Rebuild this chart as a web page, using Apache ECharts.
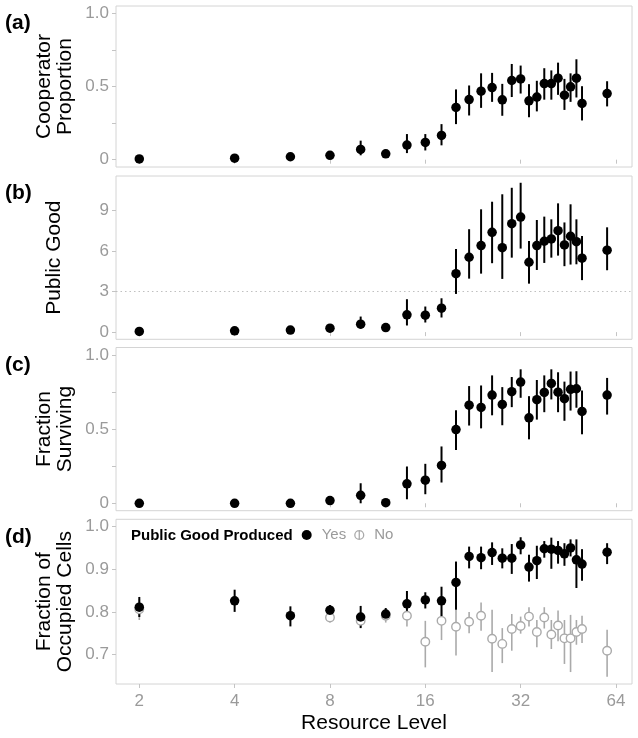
<!DOCTYPE html>
<html>
<head>
<meta charset="utf-8">
<script src="https://cdn.jsdelivr.net/npm/echarts@6/dist/echarts.min.js"></script>
<style>
html,body{margin:0;padding:0;background:#fff;}
#chart{width:638px;height:738px;}
</style>
</head>
<body>
<div id="chart"></div>
<script>
// ---- data ----
const levels = [2,4,6,8,10,12,14,16,18,20,22,24,26,28,30,32,34,36,38,40,42,44,46,48,50,60];

const coop   = [0.005,0.01,0.02,0.03,0.07,0.04,0.10,0.118,0.166,0.357,0.411,0.468,0.493,0.409,0.541,0.552,0.402,0.428,0.52,0.52,0.557,0.441,0.498,0.557,0.384,0.452];
const coopLo = [0.005,0.01,0.02,0.03,0.03,0.04,0.045,0.063,0.098,0.243,0.302,0.354,0.395,0.30,0.428,0.452,0.29,0.33,0.41,0.41,0.443,0.34,0.395,0.425,0.268,0.364];
const coopHi = [0.005,0.01,0.02,0.03,0.13,0.04,0.175,0.175,0.243,0.48,0.507,0.59,0.593,0.518,0.654,0.643,0.516,0.539,0.625,0.61,0.663,0.552,0.59,0.686,0.502,0.536];

const pg   = [0.05,0.1,0.15,0.29,0.59,0.34,1.28,1.25,1.77,4.32,5.53,6.39,7.37,6.24,8.01,8.5,5.16,6.39,6.71,6.88,7.49,6.44,7.08,6.68,5.46,6.05];
const pgLo = [0.05,0.1,0.15,0.2,0.27,0.3,0.49,0.71,1.08,2.82,3.95,4.32,5.09,3.93,5.5,6.17,3.58,4.59,5.11,5.5,5.65,4.87,4.99,5.01,3.84,4.57];
const pgHi = [0.05,0.1,0.15,0.4,1.15,0.4,2.43,1.89,2.5,6.14,7.6,9.07,9.63,10.18,10.66,11.03,6.73,8.28,8.53,8.33,9.51,8.1,9.44,8.33,7.1,7.74];
const pgThreshold = 3;

const surv   = [0,0,0,0.018,0.054,0.004,0.131,0.156,0.255,0.497,0.661,0.646,0.729,0.666,0.752,0.817,0.576,0.698,0.747,0.808,0.749,0.705,0.768,0.772,0.619,0.729];
const survLo = [0,0,0,0.01,0.0,0.004,0.027,0.061,0.14,0.359,0.524,0.505,0.593,0.526,0.648,0.711,0.431,0.564,0.614,0.70,0.614,0.556,0.625,0.644,0.465,0.598];
const survHi = [0,0,0,0.03,0.135,0.004,0.248,0.266,0.383,0.627,0.79,0.794,0.862,0.783,0.851,0.903,0.722,0.831,0.862,0.903,0.883,0.82,0.888,0.89,0.76,0.845];

const occYes   = [0.811,0.826,0.791,0.804,0.788,0.795,0.819,0.828,0.826,0.869,0.93,0.927,0.939,0.926,0.926,0.957,0.905,0.92,0.948,0.947,0.944,0.936,0.95,0.922,0.912,0.94];
const occYesLo = [0.788,0.80,0.766,0.79,0.762,0.781,0.791,0.808,0.789,0.805,0.902,0.90,0.91,0.902,0.889,0.935,0.871,0.877,0.927,0.901,0.913,0.908,0.93,0.856,0.873,0.912];
const occYesHi = [0.835,0.852,0.813,0.816,0.814,0.809,0.849,0.846,0.859,0.918,0.953,0.953,0.963,0.949,0.959,0.975,0.934,0.955,0.966,0.974,0.966,0.961,0.97,0.97,0.947,0.961];

const occNo   = [0.806,null,null,0.787,0.779,0.791,0.791,0.730,0.779,0.765,0.777,0.791,0.737,0.725,0.76,0.767,0.789,0.753,0.787,0.747,0.768,0.738,0.738,0.753,0.76,0.709];
const occNoLo = [0.781,null,null,0.775,0.765,0.775,0.766,0.670,0.734,0.698,0.75,0.756,0.659,0.68,0.709,0.749,0.766,0.717,0.761,0.713,0.731,0.678,0.659,0.723,0.727,0.648];
const occNoHi = [0.83,null,null,0.80,0.79,0.805,0.805,0.779,0.805,0.805,0.80,0.822,0.805,0.762,0.795,0.789,0.811,0.781,0.811,0.781,0.803,0.781,0.793,0.781,0.791,0.758];

const xTicks = [2,4,8,16,32,64];
const yTicksA = [0,0.25,0.5,0.75,1]; const yLabelsA = [0,0.5,1];
const yTicksB = [0,3,6,9];
const yTicksC = [0,0.25,0.5,0.75,1]; const yLabelsC = [0,0.5,1];
const yTicksD = [0.7,0.8,0.9,1.0];

const panelLetters = ['(a)','(b)','(c)','(d)'];
const yTitles = ['Cooperator\nProportion','Public Good','Fraction\nSurviving','Fraction of\nOccupied Cells'];
const xTitle = 'Resource Level';
const legendTitle = 'Public Good Produced';

// ---- layout / style ----
const FONT = 'Liberation Sans, Arial, Helvetica, sans-serif';
const GREY_TXT = '#9a9a9a';
const BORDER = '#d4d4d4';
const TICK = '#c4c4c4';
const grids = [
  {top:6,     height:161},
  {top:176,   height:163.3},
  {top:347.5, height:163.2},
  {top:519.3, height:164.7}
];
const yRanges = [[-0.05,1.05],[-0.53,11.53],[-0.05,1.05],[0.631,1.017]];
const XMIN = Math.pow(2,0.7556), XMAX = Math.pow(2,6.168);

function pts(xs, ys){ const o=[]; xs.forEach((x,i)=>{ if(ys[i]!=null) o.push([x,ys[i]]); }); return o; }
function bars(xs, lo, hi){ const o=[]; xs.forEach((x,i)=>{ if(lo[i]!=null && hi[i]!=null && hi[i]>lo[i]) o.push([x,lo[i],hi[i]]); }); return o; }
function errRender(color, width){
  return function(params, api){
    const p1 = api.coord([api.value(0), api.value(1)]);
    const p2 = api.coord([api.value(0), api.value(2)]);
    return {type:'line', shape:{x1:p1[0],y1:p1[1],x2:p2[0],y2:p2[1]}, style:{stroke:color, lineWidth:width}};
  };
}
function errSeries(name, gi, data, color, width){
  return {type:'custom', name:name, xAxisIndex:gi, yAxisIndex:gi, data:data,
    encode:{x:0, y:[1,2]}, renderItem:errRender(color,width), silent:true, z:2};
}
function ptSeries(name, gi, data, extra){
  return Object.assign({type:'scatter', name:name, xAxisIndex:gi, yAxisIndex:gi, data:data,
    symbol:'circle', symbolSize:9.5, itemStyle:{color:'#000', opacity:1}, z:3}, extra||{});
}

function xAx(gi, showLabels){
  return {type:'log', logBase:2, gridIndex:gi, min:XMIN, max:XMAX,
    axisLine:{show:false},
    axisTick:{show:true, length:4, lineStyle:{color:TICK, width:1}, customValues:xTicks},
    axisLabel:{show:showLabels, customValues:xTicks, color:GREY_TXT, fontSize:17, margin:9, fontFamily:FONT,
      formatter:v=>String(Math.round(v))},
    splitLine:{show:false}, minorTick:{show:false}, minorSplitLine:{show:false}};
}
function yAx(gi, ticks, labels, fmt){
  return {type:'value', gridIndex:gi, min:yRanges[gi][0], max:yRanges[gi][1],
    axisLine:{show:false},
    axisTick:{show:true, length:4, lineStyle:{color:TICK, width:1}, customValues:ticks},
    axisLabel:{customValues:labels, color:GREY_TXT, fontSize:17, margin:7, fontFamily:FONT, formatter:fmt},
    splitLine:{show:false}};
}
const fmt01 = v => (Math.abs(v)<1e-9 ? '0' : v.toFixed(1));

const option = {
  animation:false,
  backgroundColor:'#fff',
  grid: grids.map(g=>({left:116, right:6, top:g.top, height:g.height, show:true, borderColor:BORDER, borderWidth:1, backgroundColor:'#fff', containLabel:false})),
  xAxis:[xAx(0,false), xAx(1,false), xAx(2,false), xAx(3,true)],
  yAxis:[
    yAx(0, yTicksA, yLabelsA, fmt01),
    yAx(1, yTicksB, yTicksB, v=>String(Math.round(v))),
    yAx(2, yTicksC, yLabelsC, fmt01),
    yAx(3, yTicksD, yTicksD, v=>v.toFixed(1))
  ],
  legend:{
    data:[
      {name:'Yes', icon:'circle'},
      {name:'No', icon:'path://M1,5 A4,4 0 1,1 9,5 A4,4 0 1,1 1,5 Z M5,0.5 L5,9.5',
        itemStyle:{color:'rgba(255,255,255,0)', borderColor:'#aaaaaa', borderWidth:1.3}}
    ],
    left:301.7, top:527.5, itemWidth:20, itemHeight:10, itemGap:8, padding:0,
    selectedMode:false,
    textStyle:{color:GREY_TXT, fontSize:15, fontFamily:FONT}
  },
  series:[
    errSeries('coopErr',0,bars(levels,coopLo,coopHi),'#000',2),
    ptSeries('Cooperator Proportion',0,pts(levels,coop)),

    Object.assign(errSeries('pgErr',1,bars(levels,pgLo,pgHi),'#000',2),{
      markLine:{silent:true, symbol:['none','none'], label:{show:false},
        lineStyle:{color:'#c0c0c0', type:[1.5,3], width:1.2},
        data:[{yAxis:pgThreshold}]}
    }),
    ptSeries('Public Good',1,pts(levels,pg)),

    errSeries('survErr',2,bars(levels,survLo,survHi),'#000',2),
    ptSeries('Fraction Surviving',2,pts(levels,surv)),

    errSeries('noErr',3,bars(levels,occNoLo,occNoHi),'#aaaaaa',1.6),
    ptSeries('No',3,pts(levels,occNo),{symbolSize:8.5, itemStyle:{color:'#fff', borderColor:'#aaaaaa', borderWidth:1.4, opacity:1}}),
    errSeries('yesErr',3,bars(levels,occYesLo,occYesHi),'#000',2),
    ptSeries('Yes',3,pts(levels,occYes))
  ],
  graphic:[]
};

// panel letters and y titles
grids.forEach((g,i)=>{
  option.graphic.push({type:'text', x:5, y:g.top+17.5, silent:true,
    style:{text:panelLetters[i], font:'bold 21px '+FONT, fill:'#000', textAlign:'left', textVerticalAlign:'middle'}});
  option.graphic.push({type:'text', x:54.5, y:g.top+g.height/2, rotation:Math.PI/2, silent:true,
    style:{text:yTitles[i], font:'21px '+FONT, fill:'#000', textAlign:'center', textVerticalAlign:'middle', lineHeight:21}});
});
option.graphic.push({type:'text', x:374, y:723, silent:true,
  style:{text:xTitle, font:'21px '+FONT, fill:'#000', textAlign:'center', textVerticalAlign:'middle'}});
option.graphic.push({type:'text', x:131, y:536, silent:true, z:10,
  style:{text:legendTitle, font:'bold 15px '+FONT, fill:'#000', textAlign:'left', textVerticalAlign:'middle'}});

const chart = echarts.init(document.getElementById('chart'), null, {renderer:'canvas'});
chart.setOption(option);
</script>
</body>
</html>
